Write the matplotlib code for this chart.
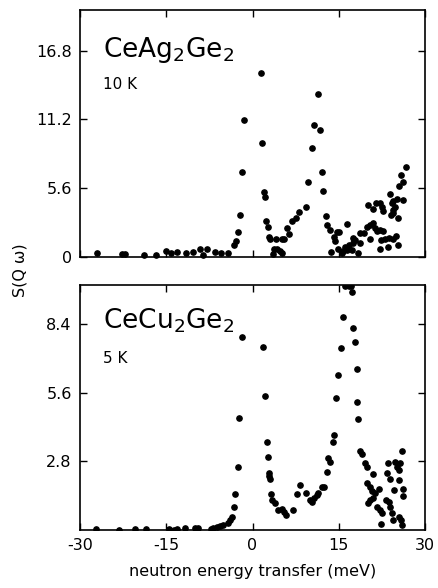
import matplotlib
matplotlib.use("Agg")
import matplotlib.pyplot as plt
import numpy as np

# CeAg2Ge2, 10 K
ag_E = [-27.1, -22.7, -22.2, -18.9, -16.7, -15.1, -14.2, -13.2, -11.6, -10.3,
        -9.1, -8.6, -7.9, -6.5, -5.4, -4.3, -3.3, -2.9, -2.6, -2.2,
        -1.8, -1.4, 1.5, 1.7, 2.0, 2.1, 2.3, 2.6, 2.9, 3.0,
        3.5, 3.7, 4.2, 4.7, 5.1, 4.1, 5.1, 5.5, 6.0, 6.4,
        6.9, 7.5, 8.1, 9.3, 9.7, 10.3, 10.7, 11.3, 11.7, 12.0,
        12.3, 12.8, 12.9, 13.4, 13.6, 14.1, 14.3, 14.6, 15.1, 14.9,
        15.5, 15.8, 16.1, 16.4, 16.7, 17.3, 17.5, 17.5, 17.8, 18.4,
        18.6, 16.5, 18.6, 19.3, 19.9, 20.4, 21.0, 21.2, 21.6, 22.2,
        22.7, 20.1, 21.0, 21.5, 22.2, 22.5, 22.7, 20.4, 22.1, 22.3,
        23.0, 23.6, 23.8, 24.4, 25.0, 25.2, 23.9, 24.2, 24.4, 24.5,
        24.8, 25.1, 25.2, 25.5, 25.8, 26.2, 26.1, 26.7, 24.4, 24.0]
ag_S = [0.30, 0.24, 0.24, 0.16, 0.16, 0.51, 0.35, 0.38, 0.35, 0.38,
        0.68, 0.16, 0.65, 0.38, 0.35, 0.30, 0.98, 1.33, 2.06, 3.42,
        6.95, 11.11, 14.97, 9.27, 5.32, 4.91, 2.93, 2.47, 1.65, 1.44,
        0.24, 0.63, 0.63, 0.51, 0.30, 1.44, 1.44, 1.44, 2.34, 1.87,
        2.93, 3.15, 3.69, 4.05, 6.14, 8.86, 10.78, 13.29, 10.35, 6.90,
        5.40, 3.34, 2.61, 2.20, 0.38, 1.65, 1.30, 2.06, 2.06, 0.63,
        0.30, 0.51, 0.84, 0.57, 0.98, 0.57, 1.12, 1.52, 1.39, 0.30,
        1.12, 2.69, 1.93, 1.98, 2.47, 2.61, 2.75, 2.34, 2.14, 2.20,
        2.14, 4.24, 3.89, 4.38, 4.38, 4.10, 3.77, 1.47, 0.63, 1.39,
        1.44, 0.79, 1.52, 1.44, 1.71, 0.98, 5.11, 4.38, 3.83, 3.56,
        4.10, 4.70, 3.15, 5.79, 6.68, 4.65, 6.14, 7.31, 4.56, 3.42]

# CeCu2Ge2, 5 K
cu_E = [-27.2, -23.2, -20.4, -18.5, -14.6, -13.7, -13.2, -11.7, -10.0, -9.4,
        -7.3, -6.8, -6.2, -5.7, -5.1, -4.2, -3.9, -3.6, -3.3, -3.0,
        -2.6, -2.3, -1.9, 1.8, 2.2, 2.5, 2.6, 2.9, 2.9, 3.0,
        3.2, 3.4, 3.9, 4.5, 5.1, 5.4, 5.8, 7.0, 7.7, 8.3,
        9.3, 10.0, 10.3, 10.6, 11.2, 11.4, 12.0, 12.4, 12.9, 13.2,
        13.5, 13.9, 14.2, 14.5, 14.9, 15.3, 15.7, 16.1, 16.7, 17.1,
        17.3, 17.4, 17.8, 18.1, 18.2, 18.4, 18.7, 19.0, 19.6, 19.9,
        20.9, 19.9, 20.4, 20.7, 21.3, 21.9, 21.0, 20.4, 20.1, 21.6,
        22.2, 22.5, 22.3, 23.3, 23.6, 23.9, 23.2, 23.8, 23.9, 24.2,
        24.6, 24.8, 25.1, 25.4, 25.7, 25.4, 25.9, 26.1, 26.1, 25.4,
        25.8, 25.9, 24.5]
cu_S = [0.03, 0.02, 0.03, 0.03, 0.03, 0.02, 0.03, 0.07, 0.09, 0.07,
        0.03, 0.07, 0.13, 0.16, 0.20, 0.27, 0.41, 0.54, 0.93, 1.47,
        2.56, 4.57, 7.88, 7.47, 5.45, 3.61, 3.00, 2.34, 2.21, 2.07,
        1.47, 1.23, 1.12, 0.82, 0.85, 0.75, 0.61, 0.82, 1.46, 1.84,
        1.50, 1.23, 1.16, 1.30, 1.43, 1.50, 1.75, 1.77, 2.38, 2.93,
        2.79, 3.61, 3.88, 5.38, 6.31, 7.43, 8.69, 9.95, 9.95, 9.95,
        9.72, 8.24, 7.66, 6.57, 5.24, 4.52, 3.24, 3.11, 2.75, 2.59,
        2.29, 1.91, 1.75, 1.61, 1.50, 1.66, 1.30, 1.23, 1.09, 0.95,
        0.82, 0.71, 0.25, 2.34, 2.75, 2.07, 1.23, 1.16, 0.95, 0.68,
        1.64, 2.79, 2.59, 2.45, 2.75, 2.04, 3.24, 1.66, 1.39, 0.52,
        0.41, 0.20, 0.41]

x_ticks = [-30, -15, 0, 15, 30]
x_labels = ['-30', '-15', '0', '15', '30']
top_yticks = [0, 5.6, 11.2, 16.8]
top_ylabels = ['0', '5.6', '11.2', '16.8']
bot_yticks = [2.8, 5.6, 8.4]
bot_ylabels = ['2.8', '5.6', '8.4']

fig = plt.figure(figsize=(4.38, 5.88), dpi=100)
ax1 = fig.add_axes([0.1826, 0.563, 0.788, 0.420])
ax2 = fig.add_axes([0.1826, 0.0986, 0.788, 0.4167])

for ax in (ax1, ax2):
    ax.set_xlim(-30, 30)
    ax.set_xticks(x_ticks)
    ax.tick_params(direction='in', top=True, right=True, length=5, width=1.0,
                   labelsize=11.5, pad=6, colors='black')
    for s in ax.spines.values():
        s.set_linewidth(1.2)

# top panel
ax1.plot(ag_E, ag_S, 'o', color='black', ms=3.8, clip_on=False)
ax1.set_ylim(0, 20.1)
ax1.set_yticks(top_yticks)
ax1.set_yticklabels(top_ylabels)
ax1.tick_params(labelbottom=False)
ax1.text(0.067, 0.84, 'CeAg$_2$Ge$_2$', transform=ax1.transAxes, fontsize=19,
         va='center', ha='left')
ax1.text(0.067, 0.70, '10 K', transform=ax1.transAxes, fontsize=11,
         va='center', ha='left')

# bottom panel
ax2.plot(cu_E, cu_S, 'o', color='black', ms=3.8)
ax2.set_ylim(0, 10.0)
ax2.set_yticks(bot_yticks)
ax2.set_yticklabels(bot_ylabels)
ax2.text(0.067, 0.855, 'CeCu$_2$Ge$_2$', transform=ax2.transAxes, fontsize=19,
         va='center', ha='left')
ax2.text(0.067, 0.70, '5 K', transform=ax2.transAxes, fontsize=11,
         va='center', ha='left')
ax2.set_xticklabels(x_labels)
ax2.set_xlabel('neutron energy transfer (meV)', fontsize=11.5, labelpad=8)

fig.text(0.045, 0.54, 'S(Q ω)', rotation=90, fontsize=11.5, va='center', ha='center')

fig.savefig('out.png', dpi=100, facecolor='white')
